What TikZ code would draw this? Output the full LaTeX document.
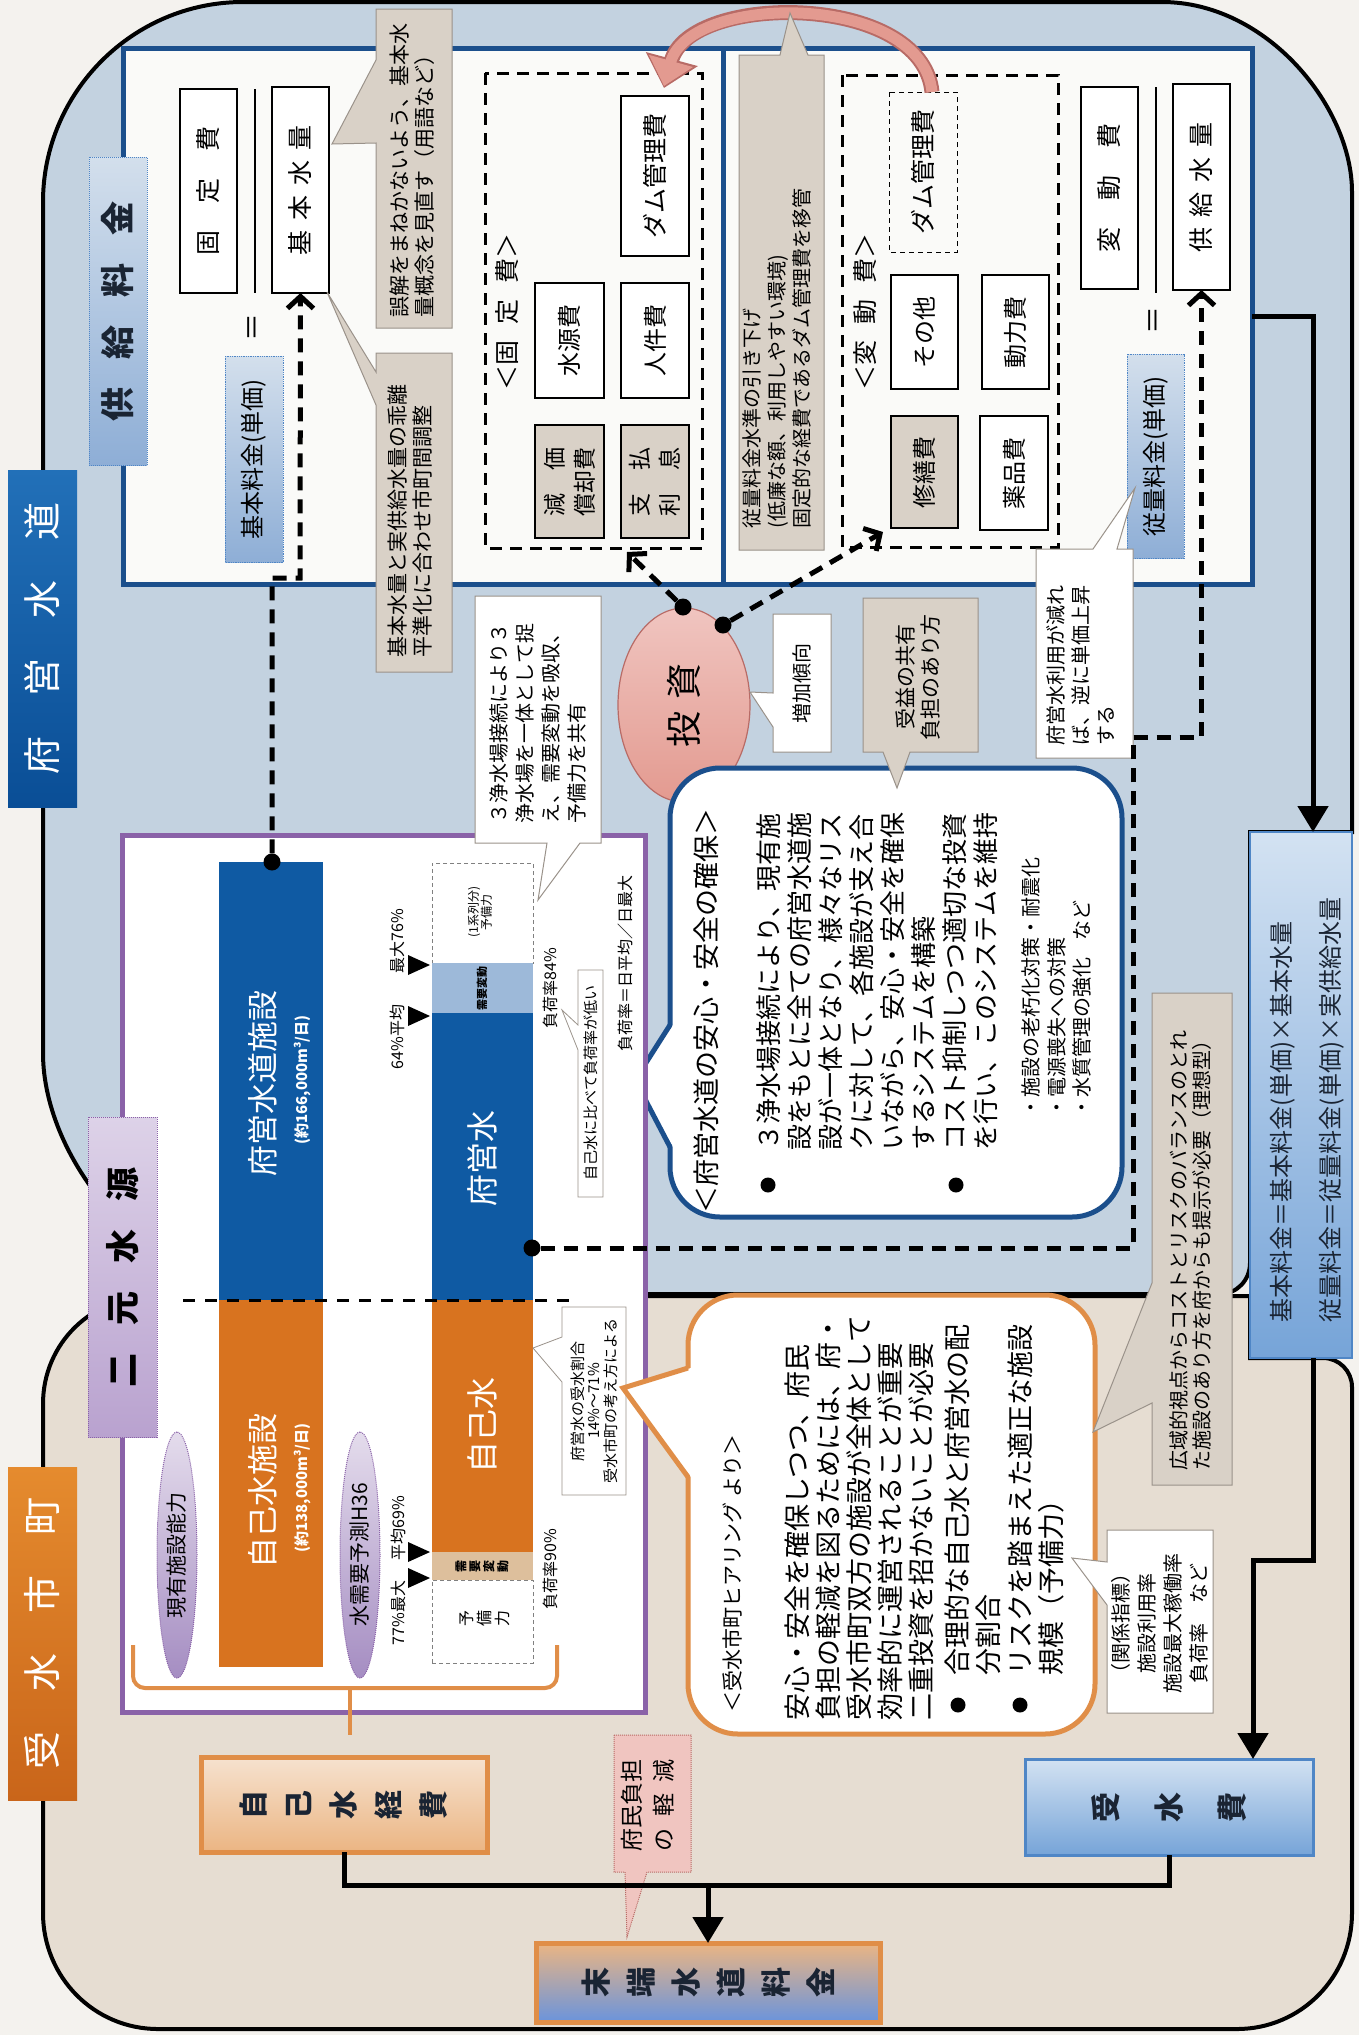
\documentclass[tikz,border=0pt]{standalone}
\usepackage{fontspec}
\setmainfont{Noto Sans CJK JP}
\usetikzlibrary{arrows.meta,shapes.geometric}
\definecolor{bgc}{HTML}{F4F2EE}
\definecolor{bluereg}{HTML}{C3D2E0}
\definecolor{beigereg}{HTML}{E6DDD2}
\definecolor{navy}{HTML}{1B4F8C}
\definecolor{navytext}{HTML}{1A2433}
\definecolor{barblue}{HTML}{0F5AA3}
\definecolor{barorange}{HTML}{D8731F}
\definecolor{purp}{HTML}{8A62A8}
\definecolor{grayc}{HTML}{D9D1C7}
\definecolor{grayline}{HTML}{9A928A}
\definecolor{panelw}{HTML}{FAFAF8}
\definecolor{orangeline}{HTML}{E08E48}
\definecolor{pinkc}{HTML}{E39A90}
\definecolor{pinkdark}{HTML}{B86B66}
\definecolor{pinkl}{HTML}{F0C5C0}
\definecolor{ltblue}{HTML}{9DB9D9}
\definecolor{tanc}{HTML}{DDBF9C}
\definecolor{fueiA}{HTML}{2270B8}
\definecolor{fueiB}{HTML}{0A4E96}
\definecolor{orA}{HTML}{E58B2E}
\definecolor{orB}{HTML}{C9651A}
\definecolor{nigA}{HTML}{DDD2E8}
\definecolor{nigB}{HTML}{B9A2CF}
\definecolor{kyA}{HTML}{D3DFEC}
\definecolor{kyB}{HTML}{8EAED6}
\definecolor{lavA}{HTML}{E4DCEC}
\definecolor{lavB}{HTML}{A58DC2}
\definecolor{fblue}{HTML}{4F86C6}
\definecolor{fA}{HTML}{D3E2F2}
\definecolor{fB}{HTML}{76A4D8}
\definecolor{peachA}{HTML}{F6E2CF}
\definecolor{peachB}{HTML}{EBB583}
\newcommand{\fsz}[2]{\fontsize{#1pt}{#2pt}\selectfont}
\newcommand{\bxn}[7]{\node[#2,minimum width={(#6-#4)*1pt},minimum height={(#5-#3)*1pt}] (#1) at ({(#3+#5)/2},{(#4+#6)/2}) {#7};}
\begin{document}
\begin{tikzpicture}[x=1pt,y=-1pt,
  rt/.style={rotate=90,inner sep=0pt,outer sep=0pt,align=left,anchor=north west},
  rc/.style={rotate=90,inner sep=0pt,outer sep=0pt,align=center},
  bx/.style={rotate=90,inner sep=0pt,outer sep=0pt,draw=black,line width=1.3pt,fill=white,align=center,font={\fsz{24}{24}}},
  gbx/.style={bx,fill=grayc},
  gcall/.style={fill=grayc,draw=grayline,line width=1pt},
  wcall/.style={fill=white,draw=grayline,line width=1pt},
  dsh/.style={line width=5pt,dash pattern=on 14pt off 9pt},
  barb/.style={-{Straight Barb[length=12pt,width=26pt]}},
  blk/.style={line width=5pt,-{Triangle[length=26pt,width=30pt]}},
  bdot/.style={circle,fill=black,inner sep=0pt,minimum size=17pt},
  rect/.style={inner sep=0pt,outer sep=0pt},
]
\useasboundingbox (0,0) rectangle (1359,2035);
\fill[bgc] (0,0) rectangle (1359,2035);
% ---------- regions
\draw[fill=bluereg,line width=4pt] (43,1053) -- (43,202) .. controls (43,92) and (133,2) .. (243,2) -- (1162,2) .. controls (1267,2) and (1352,107) .. (1352,192) -- (1352,832) -- (1250,832) -- (1250,1263) .. controls (1250,1280) and (1237,1294) .. (1220,1294) -- (283,1294) .. controls (150,1294) and (43,1161) .. (43,1053) -- cycle;
\draw[fill=beigereg,line width=4pt] (43,1404) -- (43,1913) .. controls (43,1977) and (94,2029) .. (158,2029) -- (1237,2029) .. controls (1301,2029) and (1352,1977) .. (1352,1913) -- (1352,1387) .. controls (1352,1371) and (1339,1358) .. (1323,1358) -- (1250,1358) -- (1250,1296) -- (153,1296) .. controls (92,1296) and (43,1343) .. (43,1404) -- cycle;
% ---------- top panel
\node[rect,draw=navy,line width=5pt,fill=panelw,minimum width=1129pt,minimum height=536pt] (panel) at (687.5,316) {};
\draw[navy,line width=5pt] (723,48) -- (723,584);
% left: fixed
\bxn{kotei}{bx,font={\fsz{25}{25}}}{180}{89}{237}{293}{固\hspace{27pt}定\hspace{27pt}費}
\draw[line width=1.5pt] (255,89) -- (255,293);
\bxn{kihon}{bx,font={\fsz{25}{25}}}{272}{87}{329}{293}{基\hspace{10pt}本\hspace{10pt}水\hspace{10pt}量}
\node[rc,font={\fsz{28}{28}}] (eq1) at (255,327) {＝};
\bxn{kihonr}{bx,draw=fblue,densely dotted,line width=0.8pt,top color=kyA,bottom color=kyB,font={\fsz{24}{24}}}{225}{356}{283}{562}{基本料金(単価)}
\draw[gcall] (376,9) -- (452,9) -- (452,328) -- (376,328) -- (376,143) -- (332,144) -- (376,60) -- cycle;
\node[rt,font={\fsz{21}{25}}] (c1t) at (389.5,317) {誤解をまねかないよう、基本水\\量概念を見直す（用語など）};
\draw[gcall] (376,353) -- (452,353) -- (452,672) -- (376,672) -- (376,405) -- (327,292) -- (376,372) -- cycle;
\node[rt,font={\fsz{21}{25}}] (c2t) at (387.5,657) {基本水量と実供給水量の乖離\\平準化に合わせ市町間調整};
\bxn{fixf}{bx,fill=none,dash pattern=on 12pt off 8pt,line width=3pt}{485}{73}{702}{548}{}
\node[rc,font={\fsz{25}{25}}] (fixl) at (507,312) {＜固\hspace{16pt}定\hspace{16pt}費＞};
\bxn{suigen}{bx}{535}{283}{604}{398}{水源費}
\bxn{jinken}{bx}{621}{283}{689}{398}{人件費}
\bxn{damA}{bx,font={\fsz{25}{25}}}{621}{96}{689}{256}{ダム管理費}
\bxn{genka}{gbx,font={\fsz{23}{30}}}{535}{425}{604}{538}{減\hspace{1em}価\\償却費}
\bxn{shiharai}{gbx,font={\fsz{23}{30}}}{621}{425}{689}{538}{支\hspace{1em}払\\利\hspace{1em}息}
% right: variable
\bxn{varf}{bx,fill=none,dash pattern=on 12pt off 8pt,line width=3pt}{842}{75}{1058}{547}{}
\node[rc,font={\fsz{25}{25}}] (varl) at (865,312) {＜変\hspace{16pt}動\hspace{16pt}費＞};
\bxn{damB}{bx,line width=1pt,dash pattern=on 5pt off 4pt,fill=panelw,font={\fsz{25}{25}}}{889}{92}{957}{252}{ダム管理費}
\bxn{sonota}{bx}{891}{275}{958}{389}{その他}
\bxn{douryoku}{bx}{982}{275}{1049}{389}{動力費}
\bxn{shuzen}{gbx}{891}{416}{958}{528}{修繕費}
\bxn{yakuhin}{bx}{980}{416}{1048}{530}{薬品費}
\bxn{hendou}{bx,font={\fsz{25}{25}}}{1081}{87}{1138}{289}{変\hspace{27pt}動\hspace{27pt}費}
\draw[line width=1.5pt] (1156,87) -- (1156,293);
\bxn{kyosui}{bx,font={\fsz{25}{25}}}{1173}{84}{1230}{290}{供\hspace{10pt}給\hspace{10pt}水\hspace{10pt}量}
\node[rc,font={\fsz{28}{28}}] (eq2) at (1156,320) {＝};
\bxn{juryo}{bx,draw=fblue,densely dotted,line width=0.8pt,top color=kyA,bottom color=kyB,font={\fsz{24}{24}}}{1127}{354}{1184}{558}{従量料金(単価)}
% pink transfer arc
\draw[pinkdark,line width=15pt,-{Triangle[length=30pt,width=52pt]}] (932,92) .. controls (922,-8) and (690,-8) .. (664,88);
\draw[pinkc,line width=11pt,-{Triangle[length=26pt,width=44pt]}] (932,92) .. controls (922,-8) and (690,-8) .. (664,86);
\draw[gcall] (739,55) -- (780,55) -- (790,13) -- (808,55) -- (824,55) -- (824,550) -- (739,550) -- cycle;
\node[rt,font={\fsz{20}{25}}] (c3t) at (743,528) {従量料金水準の引き下げ\\(低廉な額、利用しやすい環境)\\固定的な経費であるダム管理費を移管};
% ---------- bottom blue area
\draw[wcall] (1036,549) -- (1093,549) -- (1135,488) -- (1117,549) -- (1133,549) -- (1133,758) -- (1036,758) -- cycle;
\node[rt,font={\fsz{20}{25}}] (c4t) at (1047,745) {府営水利用が減れ\\ば、逆に単価上昇\\する};
\node[ellipse,rotate=90,minimum width=194pt,minimum height=132pt,inner sep=0pt,draw=pinkdark,line width=1.2pt,top color=pinkl,bottom color=pinkc,font={\fsz{36}{36}}] (tou) at (684,705) {投\hspace{12pt}資};
\node[bdot] (d1) at (683,607) {};
\node[bdot] (d2) at (723,625) {};
\coordinate (t1) at (627,552);
\coordinate (t2) at (883,532);
\draw[dsh,barb] (d1) -- (t1);
\draw[dsh,barb] (d2) -- (t2);
\draw[wcall] (773,614) -- (831,614) -- (831,752) -- (773,752) -- (773,727) -- (750,692) -- (773,693) -- cycle;
\node[rc,font={\fsz{20}{20}}] (zouka) at (802,683) {増加傾向};
% blue callout
\draw[navy,line width=5pt,fill=white,rounded corners=50pt] (670,768) rectangle (1122,1217);
\fill[white] (673,1025) -- (635,1080) -- (673,1147) -- cycle;
\draw[navy,line width=5pt] (670,1025) -- (635,1080) -- (670,1147);
\draw[gcall] (863,598) -- (978,598) -- (978,752) -- (910,752) -- (897,788) -- (883,752) -- (863,752) -- cycle;
\node[rc,font={\fsz{21}{25}}] (jueki) at (918,677) {受益の共有\\負担のあり方};
\node[rt,font={\fsz{27}{27}}] (bch) at (693.5,1213) {＜府営水道の安心・安全の確保＞};
\fill (768,1185) circle (7.5);
\fill (956,1185) circle (7.5);
\node[rt,font={\fsz{26}{31}}] (bcb) at (757,1150) {３浄水場接続により、現有施\\設をもとに全ての府営水道施\\設が一体となり、様々なリス\\クに対して、各施設が支え合\\いながら、安心・安全を確保\\するシステムを構築\\コスト抑制しつつ適切な投資\\を行い、このシステムを維持};
\node[rt,font={\fsz{20}{25.5}}] (bcs) at (1022,1117) {・施設の老朽化対策・耐震化\\・電源喪失への対策\\・水質管理の強化\hspace{17pt}など};
% ---------- purple frame
\node[rect,draw=purp,line width=5pt,fill=white,minimum width=523pt,minimum height=877pt] (frame) at (383.5,1273.5) {};
\draw[wcall] (475,596) -- (601,596) -- (601,843) -- (580,843) -- (538,900) -- (547,843) -- (475,843) -- cycle;
\node[rt,font={\fsz{20}{26}}] (c5t) at (490,823) {３浄水場接続により３\\浄水場を一体として捉\\え、需要変動を吸収、\\予備力を共有};
\node[rect,fill=barblue,minimum width=104pt,minimum height=438pt] (b1f) at (271,1081) {};
\node[rect,fill=barorange,minimum width=104pt,minimum height=367pt] (b1j) at (271,1483.5) {};
\node[rc,font={\fsz{31}{31}},text=white] (b1ft) at (263,1083) {府営水道施設};
\node[rc,font={\bfseries\fsz{15}{15}},text=white] (b1fs) at (303,1080) {(約166,000m³/日)};
\node[rc,font={\fsz{31}{31}},text=white] (b1jt) at (263,1491) {自己水施設};
\node[rc,font={\bfseries\fsz{15}{15}},text=white] (b1js) at (303,1488) {(約138,000m³/日)};
\node[rect,draw=gray,dash pattern=on 4pt off 3pt,line width=1pt,fill=white,minimum width=101pt,minimum height=100pt] (yobi1) at (482.5,913) {};
\node[rect,fill=ltblue,minimum width=101pt,minimum height=50pt] (hendo1) at (482.5,988) {};
\node[rect,fill=barblue,minimum width=101pt,minimum height=287pt] (b2f) at (482.5,1156.5) {};
\node[rect,fill=barorange,minimum width=101pt,minimum height=252pt] (b2j) at (482.5,1426) {};
\node[rect,fill=tanc,minimum width=101pt,minimum height=28pt] (hendo2) at (482.5,1566) {};
\node[rect,draw=gray,dash pattern=on 4pt off 3pt,line width=1pt,fill=white,minimum width=101pt,minimum height=83pt] (yobi2) at (482.5,1621.5) {};
\node[rc,font={\fsz{12}{13}}] (yobi1t) at (480,912) {(1系列分)\\予備力};
\node[rc,font={\bfseries\fsz{11}{11}}] (hen1t) at (482,988) {需要変動};
\node[rc,font={\fsz{32}{32}},text=white] (b2ft) at (482,1158) {府営水};
\node[rc,font={\fsz{32}{32}},text=white] (b2jt) at (482,1425) {自己水};
\node[rc,font={\bfseries\fsz{12}{14}}] (hen2t) at (482,1566) {需\\要\\変\\動};
\node[rc,font={\fsz{16}{18}}] (yobi2t) at (485,1618) {予\\備\\力};
\draw[line width=3pt,dash pattern=on 12pt off 10pt] (183,1300) -- (577,1300);
\node[bdot] (dot1) at (272,862) {};
\node[bdot] (dot2) at (532,1248) {};
\fill (408,955) -- (430,965) -- (408,975) -- cycle;
\fill (408,1006) -- (430,1016) -- (408,1026) -- cycle;
\fill (408,1542) -- (430,1552) -- (408,1562) -- cycle;
\fill (408,1568) -- (430,1578) -- (408,1588) -- cycle;
\node[rc,font={\fsz{16}{16}}] (l76) at (397,941) {最大76\%};
\node[rc,font={\fsz{16}{16}}] (l64) at (397,1037) {64\%平均};
\node[rc,font={\fsz{16}{16}}] (l69) at (398,1528) {平均69\%};
\node[rc,font={\fsz{16}{16}}] (l77) at (398,1613) {77\%最大};
\node[rc,font={\fsz{16}{16}}] (lf84) at (550,988) {負荷率84\%};
\node[rc,font={\fsz{16}{16}}] (lf90) at (550,1569) {負荷率90\%};
\node[rc,font={\fsz{16}{16}}] (lfdef) at (625,963) {負荷率＝日平均／日最大};
\draw[wcall,line width=0.8pt] (578,970) -- (603,970) -- (603,1197) -- (578,1197) -- (578,1050) -- (562,1010) -- (578,1025) -- cycle;
\node[rc,font={\fsz{15}{15}}] (sb1) at (590.5,1083) {自己水に比べて負荷率が低い};
\draw[wcall,line width=0.8pt] (562,1307) -- (626,1307) -- (626,1495) -- (562,1495) -- (562,1382) -- (533,1348) -- (562,1337) -- cycle;
\node[rc,font={\fsz{15}{16.5}}] (sb2) at (594,1401) {府営水の受水割合\\14\%〜71\%\\受水市町の考え方による};
\node[ellipse,rotate=90,minimum width=246pt,minimum height=40pt,inner sep=0pt,draw=purp,densely dotted,line width=1pt,top color=lavA,bottom color=lavB,font={\fsz{21}{21}}] (el1) at (177,1555) {現有施設能力};
\node[ellipse,rotate=90,minimum width=246pt,minimum height=40pt,inner sep=0pt,draw=purp,densely dotted,line width=1pt,top color=lavA,bottom color=lavB,font={\fsz{21}{21}}] (el2) at (360,1555) {水需要予測H36};
\draw[orangeline,line width=4pt,rounded corners=12pt] (133,1645) -- (133,1688) -- (557,1688) -- (557,1645);
\draw[orangeline,line width=4pt] (350,1688) -- (350,1735);
% ---------- orange callout
\draw[orangeline,line width=5pt,fill=white,rounded corners=50pt] (688,1295) rectangle (1095,1734);
\fill[white] (691,1368) -- (623,1388) -- (691,1477) -- cycle;
\draw[orangeline,line width=5pt] (688,1368) -- (623,1388) -- (688,1477);
\node[rt,font={\fsz{21}{21}}] (och) at (722.5,1712) {＜受水市町ヒアリング より＞};
\node[rt,font={\fsz{27}{31}}] (ocb) at (784.5,1720) {安心・安全を確保しつつ、府民\\負担の軽減を図るためには、府・\\受水市町双方の施設が全体として\\効率的に運営されることが重要\\二重投資を招かないことが必要};
\fill (958,1705) circle (7.5);
\fill (1020,1705) circle (7.5);
\node[rt,font={\fsz{27}{31.5}}] (ocb2) at (944.5,1675) {合理的な自己水と府営水の配\\分割合\\リスクを踏まえた適正な施設\\規模（予備力）};
\draw[gcall] (1152,993) -- (1232,993) -- (1232,1485) -- (1152,1485) -- (1152,1403) -- (1093,1432) -- (1152,1283) -- cycle;
\node[rt,font={\fsz{20}{23}}] (kouiki) at (1170,1470) {広域的視点からコストとリスクのバランスのとれ\\た施設のあり方を府からも提示が必要（理想型）};
\draw[wcall] (1107,1530) -- (1213,1530) -- (1213,1713) -- (1107,1713) -- (1107,1605) -- (1072,1558) -- (1107,1562) -- cycle;
\node[rc,font={\fsz{20}{26}}] (kankei) at (1160,1623) {（関係指標）\\施設利用率\\施設最大稼働率\\負荷率\hspace{1em}など};
% ---------- labels
\node[rc,minimum width=337pt,minimum height=69pt,top color=fueiA,bottom color=fueiB,text=white,font={\fsz{38}{38}}] (lfuei) at (42.5,638.5) {府\hspace{40pt}営\hspace{40pt}水\hspace{40pt}道};
\node[rc,minimum width=333pt,minimum height=69pt,top color=orA,bottom color=orB,text=white,font={\fsz{38}{38}}] (ljusui) at (42.5,1633.5) {受\hspace{40pt}水\hspace{40pt}市\hspace{40pt}町};
\node[rc,draw=purp,densely dotted,line width=1pt,minimum width=320pt,minimum height=69pt,top color=nigA,bottom color=nigB,font={\bfseries\fsz{34}{34}}] (lnigen) at (122.5,1277) {二\hspace{28pt}元\hspace{28pt}水\hspace{28pt}源};
\node[rc,draw=fblue,densely dotted,line width=1pt,minimum width=308pt,minimum height=58pt,top color=kyA,bottom color=kyB,text=navytext,font={\bfseries\fsz{34}{34}}] (lkyo) at (118,311) {供\hspace{28pt}給\hspace{28pt}料\hspace{28pt}金};
% ---------- formula & cost boxes
\node[rc,draw=fblue,line width=2pt,top color=fA,bottom color=fB,minimum width=526pt,minimum height=102pt] (formula) at (1301,1095) {};
\node[rt,font={\fsz{24}{49}},text=navytext] (ft) at (1270,1322) {基本料金＝基本料金(単価)×基本水量\\従量料金＝従量料金(単価)×実供給水量};
\node[rc,draw=fblue,line width=3pt,top color=fA,bottom color=fB,minimum width=96pt,minimum height=288pt,text=navytext,font={\bfseries\fsz{30}{63}}] (jusui) at (1169,1807) {受\\水\\費};
\node[rc,draw=orangeline,line width=5pt,top color=peachA,bottom color=peachB,minimum width=95pt,minimum height=286pt,text=navytext,font={\bfseries\fsz{29}{45}}] (jiko) at (344,1804.5) {自\\己\\水\\経\\費};
\node[rc,draw=orangeline,line width=5pt,top color=peachB,middle color=peachA,bottom color=fB!90!blue,minimum width=79pt,minimum height=344pt,text=navytext,font={\bfseries\fsz{30}{45}}] (mattan) at (708,1982.5) {末\\端\\水\\道\\料\\金};
\draw[fill=pinkl,draw=pinkdark,densely dotted,line width=1pt] (614,1735) -- (691,1735) -- (691,1872) -- (647,1872) -- (627,1937) -- (625,1872) -- (614,1872) -- cycle;
\node[rc,font={\fsz{23}{32}}] (fumin) at (648,1805) {府民負担\\の\hspace{11.5pt}軽\hspace{11.5pt}減};
% ---------- connectors
\draw[dsh,barb] (dot1) |- (300,578) -- (kihon.west);
\draw[dsh,barb] (dot2) -- (1133,1248) -- (1133,737) -- (1201.5,737) -- (kyosui.west);
\draw[blk] (panel.east) -| ([xshift=12pt]formula.east);
\draw[blk] ([xshift=12pt]formula.west) -- ++(0,202) -| ([xshift=84pt]jusui.east);
\draw[line width=5pt] (jiko.west) -- ++(0,33) -| (jusui.west);
\coordinate (junc) at (708,1885);
\draw[blk] (junc) -- (mattan.east);
\end{tikzpicture}
\end{document}
